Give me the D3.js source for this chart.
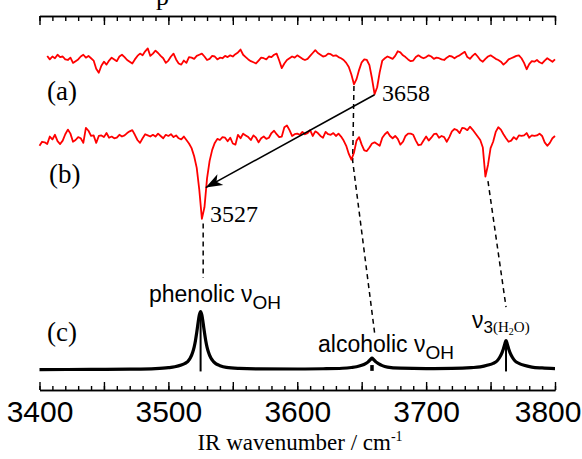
<!DOCTYPE html>
<html lang="en">
<head>
<meta charset="utf-8">
<title>IR spectra</title>
<script src="https://cdn.jsdelivr.net/npm/d3@7"></script>
<style>
body { margin: 0; background: #fff; }
svg { display: block; }
.serif { font-family: "Liberation Serif", "Times New Roman", serif; }
.sans { font-family: "Liberation Sans", Arial, sans-serif; }
</style>
</head>
<body>
<script>

// sampled traces (a) and (b): one value every 2 cm-1, relative to own baseline
var traceStep = 2;
var aStart = 3406;
var aOffset = 537;
var aValues = [
   4, -2,  3,  0,  6,  2,  3, -2, -3,  1,
  -8, -5, -2,  3,  6,  1,  4,  0, -4,-18,
 -25,-13, -6,-11, -4,  1, -2, -5,  3,  6,
   2, -3, -6, -9, -2,  4,  8,  5, 12, 17,
   4,  8, 13,  9,  4,  0, -8, -4,  3,  8,
  -2, -9,-11, -4, -8,  2,  1, -1,  4,  6,
   8,  3, -3, -1,  4,  3, -2,  1,  0,  4,
   2,  5,  3,  7, 10, 15,  6,  2, -2, -5,
  -7, -9, -4,  1,  0, -2,  3,  2,  6,  8,
  -4,-17, -9, -3,  0,  3,  1,  5,  2, -1,
  -3, -1,  4,  9, 14,  9,  6,  3,  4,  8,
   7,  4,  5,  2,  0, -3, -8,-15,-28,-45,
 -36,-20, -7, -2, -3,-12,-35,-62,-50,-24,
  -4,  0,  3,  1, -1,  4, 12, 10,  5,  2,
  -2, -5, -4,  2,  5,  2,  0,  2,  5,  3,
  -1,  1,  0, -2, -3,  1,  4,  3,  0,  3,
   5,  8, 11,  2, -1,  4,  8,  3, -3, -6,
  -1,  3,  5,  2, -1, -3, -6,-11, -7, -2,
   0,  2,  4,  5,  0, -8,-19,-10, -5, -6,
  -3, -7, -9, -4,  0, -3, -6, -2
];

var bStart = 3400;
var bOffset = 398;
var bValues = [
 -12, -5, -6, -9,  4, -1,  7, -4, -9, -3,
   8, 16,  9, -5, -2,  3,  1, -7, 19, 14,
   5,  6, -7,  5,  6,  3, 10,  2,  4,  1,
   2,  7,  4,  6, 10, 13, 15,  7, -2, -7,
   1,  8,  6,  4,  7,  4,  9,  5,  1,  7,
   5,  8,  3,  6,  1, -1,  4, -2, -8,-16,
 -30,-50,-88,-138,-118,-68,-38,-19, -7,  0,
  -2,  3,  2, -4,  2, -8,-10,  7,  1,  9,
   6,  3, -2,  6,  2, -6,  1,  4,  0,  2,
  10, 14,  8,  3,  4, 20, 23, 15,  5,  8,
   9,  7, 12,  8, 10, 15,  5, 13, 10,  5,
   2, 12,  8,  7, 10,  5,  9,  4, -3,-12,
 -26,-36,-24, -3,  3,-10,-20,-21,-15, -8,
  -6, -9,-12,  2,  8, 12,  5,  1,  5,  0,
 -10, -5,  5,  9,  9,  7, -3,-11,-10, -3,
   4, -3,  2,  8,  9,  2,  5,  3, -5,  3,
  13, 17, 15, 10, 19, 18, 15, 21, 16, 10,
   4, -2,-15,-65,-45,-16, -5, 12, 20, 16,
   8,  1, -5, -3,  3, -1,  6,  5,  6, 10,
   2,  6,  5,  6,  9,  5, -6,-12, -7,  1,
   5
];

// simulated spectrum (c): [wavenumber, intensity]
var cSpectrum = [
  [3400, 0.3], [3440, 0.5], [3470, 1], [3490, 2], [3500, 3.5], [3505, 5],
  [3510, 8], [3513, 11], [3515, 14], [3517, 20], [3519, 31], [3520, 39],
  [3521, 50], [3522, 64], [3523, 80], [3524, 94], [3525, 100], [3526, 94],
  [3527, 80], [3528, 64], [3529, 50], [3530, 39], [3531, 31], [3533, 20],
  [3535, 14], [3537, 10], [3540, 7], [3545, 4], [3555, 2.2], [3570, 1.4],
  [3600, 1.2], [3620, 1.6], [3635, 2.5], [3642, 3.8], [3646, 5], [3650, 7.5],
  [3653, 10.5], [3655, 13.5], [3657, 18], [3658, 20], [3659, 18], [3661, 13.5],
  [3663, 10.5], [3666, 7], [3670, 4.5], [3680, 2.6], [3700, 1.8], [3720, 2.2],
  [3735, 3.5], [3742, 4.8], [3748, 8], [3752, 11], [3755, 15], [3757, 21],
  [3759, 30], [3760, 36], [3761, 44], [3762, 50], [3763, 44], [3764, 36],
  [3765, 30], [3767, 21], [3769, 15], [3772, 11], [3776, 7.5], [3782, 4.5],
  [3790, 3], [3800, 2]
];

// calculated line positions: [wavenumber, bottom, top]
var sticks = [[3525, -3, 100], [3658, -2, 8], [3762, -3, 50]];

// dashed guides between bands
var guides = [
  [[3527, 252], [3527, 158]],
  [[3644, 489], [3643, 360], [3660, 64]],
  [[3748, 325], [3762, 108]]
];

var arrowFrom = [3660, 474];
var arrowTo = [3529, 314];

var majorTicks = d3.range(3400, 3801, 50);
var minorTicks = d3.range(3400, 3801, 10);
var labelTicks = [3400, 3500, 3600, 3700, 3800];

var width = 582, height = 459;

var svg = d3.select("body").append("svg")
  .attr("width", width)
  .attr("height", height);

var x = d3.scaleLinear().domain([3400, 3800]).range([39.5, 555]);
var y = d3.scaleLinear().domain([0, 100]).range([369.7, 311.7]);

var defs = svg.append("defs");
defs.append("marker")
  .attr("id", "head")
  .attr("markerUnits", "userSpaceOnUse")
  .attr("markerWidth", 20).attr("markerHeight", 20)
  .attr("refX", 0).attr("refY", 0)
  .attr("viewBox", "-16 -8 18 16")
  .attr("orient", "auto")
  .append("path")
  .attr("d", "M0,0 L-15,-5.5 L-11,0 L-15,5.5 Z")
  .attr("fill", "#000");

// axes
function frame(gen, yPos, ticks, size) {
  var g = svg.append("g")
    .attr("transform", "translate(0," + yPos + ")")
    .call(gen(x).tickValues(ticks).tickSize(size).tickSizeOuter(0).tickFormat(""));
  g.selectAll("line").attr("stroke", "#000").attr("stroke-width", 1.4);
  g.select(".domain").attr("stroke", "#000").attr("stroke-width", 1.6);
  return g;
}
frame(d3.axisBottom, 16, minorTicks, 5);
frame(d3.axisBottom, 16, majorTicks, 9);
frame(d3.axisTop, 390, minorTicks, 4);
frame(d3.axisTop, 390, majorTicks, 8);

var labels = svg.append("g")
  .attr("transform", "translate(0,391)")
  .call(d3.axisBottom(x).tickValues(labelTicks).tickSize(0).tickPadding(10).tickFormat(d3.format("d")));
labels.select(".domain").remove();
labels.selectAll("text")
  .attr("class", "sans")
  .attr("font-family", null)
  .style("font-size", "30px")
  .attr("fill", "#000")
  .each(function() {
    // keep the last label inside the picture
    var box = this.getBBox(), tx = x(d3.select(this).datum());
    var over = tx + box.x + box.width - (width - 1);
    if (over > 0) d3.select(this).attr("x", -over);
  });

var title = svg.append("text")
  .attr("class", "serif")
  .attr("x", 300).attr("y", 450)
  .attr("text-anchor", "middle")
  .style("font-size", "23px");
title.append("tspan").text("IR wavenumber / cm");
title.append("tspan").attr("dy", -9).style("font-size", "14px").text("-1");

// cut-off text at the very top
svg.append("text").attr("class", "serif")
  .attr("x", 156).attr("y", 5)
  .style("font-size", "26px").text("p");

// traces
var line = d3.line().x(function(d) { return x(d[0]); }).y(function(d) { return y(d[1]); });

var aPoints = aValues.map(function(v, i) { return [aStart + i * traceStep, aOffset + v]; });
var bPoints = bValues.map(function(v, i) { return [bStart + i * traceStep, bOffset + v]; });

svg.selectAll(".guide")
  .data(guides)
  .enter().append("path")
  .attr("class", "guide")
  .attr("d", line)
  .attr("fill", "none")
  .attr("stroke", "#000")
  .attr("stroke-width", 1.5)
  .attr("stroke-dasharray", "5,4");

svg.selectAll(".trace")
  .data([aPoints, bPoints])
  .enter().append("path")
  .attr("class", "trace")
  .attr("d", line)
  .attr("fill", "none")
  .attr("stroke", "#ff0000")
  .attr("stroke-width", 1.8)
  .attr("stroke-linejoin", "round");

svg.append("path")
  .datum(cSpectrum)
  .attr("d", line.curve(d3.curveMonotoneX))
  .attr("fill", "none")
  .attr("stroke", "#000")
  .attr("stroke-width", 3.2)
  .attr("stroke-linejoin", "round");

svg.selectAll(".stick")
  .data(sticks)
  .enter().append("line")
  .attr("class", "stick")
  .attr("x1", function(d) { return x(d[0]); })
  .attr("x2", function(d) { return x(d[0]); })
  .attr("y1", function(d) { return y(d[1]); })
  .attr("y2", function(d) { return y(d[2]); })
  .attr("stroke", "#000")
  .attr("stroke-width", function(d, i) { return i == 1 ? 3.5 : 2; });

svg.append("line")
  .attr("x1", x(arrowFrom[0])).attr("y1", y(arrowFrom[1]))
  .attr("x2", x(arrowTo[0])).attr("y2", y(arrowTo[1]))
  .attr("stroke", "#000")
  .attr("stroke-width", 1.6)
  .attr("marker-end", "url(#head)");

// annotations
function serifLabel(t, px, py, size) {
  svg.append("text").attr("class", "serif")
    .attr("x", px).attr("y", py)
    .style("font-size", size + "px")
    .text(t);
}
serifLabel("(a)", 47, 100, 27);
serifLabel("(b)", 49, 183, 27);
serifLabel("(c)", 47, 341, 27);
serifLabel("3658", 382, 101, 24);
serifLabel("3527", 210, 222, 24);

function nuLabel(name, px, py) {
  var t = svg.append("text").attr("class", "sans")
    .attr("x", px).attr("y", py)
    .style("font-size", "23px");
  t.append("tspan").text(name + " \u03bd");
  t.append("tspan").attr("dy", 7).style("font-size", "19px").text("OH");
}
nuLabel("phenolic", 149, 302);
nuLabel("alcoholic", 318, 352);

var w = svg.append("text").attr("class", "sans")
  .attr("x", 472).attr("y", 328)
  .style("font-size", "23px");
w.append("tspan").text("\u03bd");
w.append("tspan").attr("dy", 5).style("font-size", "17px").text("3");
w.append("tspan").attr("class", "serif").style("font-size", "15px").attr("dy", -1).text("(H");
w.append("tspan").attr("class", "serif").style("font-size", "10px").attr("dy", 3).text("2");
w.append("tspan").attr("class", "serif").style("font-size", "15px").attr("dy", -3).text("O)");

</script>
</body>
</html>
